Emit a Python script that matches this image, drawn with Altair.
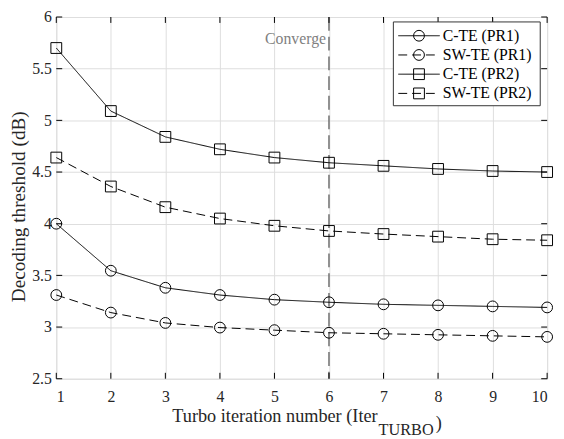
import altair as alt
import pandas as pd

# ---------------- data ----------------
iters = [1, 2, 3, 4, 5, 6, 7, 8, 9, 10]
c_te_pr1 = [4.00, 3.545, 3.38, 3.31, 3.265, 3.24, 3.22, 3.21, 3.20, 3.19]
sw_te_pr1 = [3.31, 3.14, 3.04, 2.995, 2.97, 2.945, 2.935, 2.925, 2.915, 2.905]
c_te_pr2 = [5.70, 5.09, 4.84, 4.72, 4.64, 4.59, 4.56, 4.53, 4.51, 4.50]
sw_te_pr2 = [4.64, 4.36, 4.16, 4.05, 3.98, 3.93, 3.90, 3.875, 3.85, 3.84]
series_names = ["C-TE (PR1)", "SW-TE (PR1)", "C-TE (PR2)", "SW-TE (PR2)"]
x_ticks = [1, 2, 3, 4, 5, 6, 7, 8, 9, 10]
y_ticks = [2.5, 3, 3.5, 4, 4.5, 5, 5.5, 6]
converge_at = [6]
converge_label = "Converge"
x_title_main = "Turbo iteration number (Iter"
x_title_sub = "TURBO"
x_title_end = ")"
y_title = "Decoding threshold (dB)"

# ---------------- layout ----------------
W, H = 498, 367
FONT = "Liberation Serif"
TXT = "#262626"

rows = []
for name, vals in zip(series_names, [c_te_pr1, sw_te_pr1, c_te_pr2, sw_te_pr2]):
    for it, v in zip(iters, vals):
        rows.append({"series": name, "iter": it, "value": v})
df = pd.DataFrame(rows)

dash_scale = alt.Scale(domain=series_names, range=[[1, 0], [9, 5], [1, 0], [9, 5]])
shape_scale = alt.Scale(domain=series_names, range=["circle", "circle", "square", "square"])
size_scale = alt.Scale(domain=series_names, range=[120, 120, 100, 100])

xs = alt.Scale(domain=[1, 10], nice=False, zero=False)
ys = alt.Scale(domain=[2.5, 6], nice=False, zero=False)

X = alt.X("iter:Q", scale=xs, axis=alt.Axis(
    values=x_ticks, title=None, grid=True, ticks=False, domain=False,
    labelPadding=10, labelFontSize=16, labelFont=FONT, labelColor=TXT, format="d"))
Y = alt.Y("value:Q", scale=ys, axis=alt.Axis(
    values=y_ticks, title=y_title, grid=True, ticks=False, domain=False,
    labelPadding=5, labelFontSize=16, labelFont=FONT, labelColor=TXT, format="~g",
    titleFont=FONT, titleFontSize=19.5, titleFontWeight="normal", titleColor=TXT,
    titleBaseline="middle", titleAlign="center", titleAngle=270,
    titleX=-38, titleY=192))

lines = alt.Chart(df).mark_line(color="black", strokeWidth=1).encode(
    x=X, y=Y,
    strokeDash=alt.StrokeDash("series:N", scale=dash_scale, legend=None),
)
points = alt.Chart(df).mark_point(filled=False, color="black", strokeWidth=1, opacity=1).encode(
    x=X, y=Y,
    shape=alt.Shape("series:N", scale=shape_scale, legend=None),
    size=alt.Size("series:N", scale=size_scale, legend=None),
)

conv_df = pd.DataFrame({"iter": converge_at})
conv_rule = alt.Chart(conv_df).mark_rule(color="#707070", strokeWidth=1.5, strokeDash=[14, 6]).encode(
    x=alt.X("iter:Q"))
conv_text = alt.Chart(conv_df).mark_text(
    align="right", baseline="middle", dx=-3, fontSize=16, font=FONT, color="#808080"
).encode(x=alt.X("iter:Q"), y=alt.value(22), text=alt.value(converge_label))

xt = pd.DataFrame({"iter": x_ticks})
yt = pd.DataFrame({"value": y_ticks})
tick_b = alt.Chart(xt).mark_rule(color="black").encode(x=alt.X("iter:Q"), y=alt.value(H), y2=alt.value(H - 6))
tick_t = alt.Chart(xt).mark_rule(color="black").encode(x=alt.X("iter:Q"), y=alt.value(0), y2=alt.value(6))
tick_l = alt.Chart(yt).mark_rule(color="black").encode(y=alt.Y("value:Q"), x=alt.value(0), x2=alt.value(6))
tick_r = alt.Chart(yt).mark_rule(color="black").encode(y=alt.Y("value:Q"), x=alt.value(W), x2=alt.value(W - 6))

# legend
leg_df = pd.DataFrame({"series": series_names, "i": list(range(len(series_names)))})
leg_base = alt.Chart(leg_df).transform_calculate(py="19 + datum.i * 19.5")
leg_box = alt.Chart(pd.DataFrame({"_": [0]})).mark_rect(
    fill="white", stroke="#333333", strokeWidth=1
).encode(x=alt.value(342), x2=alt.value(491), y=alt.value(5), y2=alt.value(90))
leg_line = leg_base.mark_rule(color="black", strokeWidth=1).encode(
    x=alt.value(347), x2=alt.value(389),
    y=alt.Y("py:Q", scale=None, axis=None),
    strokeDash=alt.StrokeDash("series:N", scale=dash_scale, legend=None))
leg_pt = leg_base.mark_point(filled=False, color="black", strokeWidth=1, opacity=1).encode(
    x=alt.value(368),
    y=alt.Y("py:Q", scale=None, axis=None),
    shape=alt.Shape("series:N", scale=shape_scale, legend=None),
    size=alt.Size("series:N", scale=size_scale, legend=None))
leg_txt = leg_base.mark_text(align="left", baseline="middle", fontSize=16, font=FONT, color="black").encode(
    x=alt.value(392),
    y=alt.Y("py:Q", scale=None, axis=None),
    text="series:N")

dummy = pd.DataFrame({"_": [0]})
t_main = alt.Chart(dummy).mark_text(align="right", baseline="alphabetic", fontSize=18.5, font=FONT, color=TXT).encode(
    x=alt.value(326), y=alt.value(411), text=alt.value(x_title_main))
t_sub = alt.Chart(dummy).mark_text(align="left", baseline="alphabetic", fontSize=16.5, font=FONT, color=TXT).encode(
    x=alt.value(327), y=alt.value(424), text=alt.value(x_title_sub))
t_end = alt.Chart(dummy).mark_text(align="left", baseline="alphabetic", fontSize=18.5, font=FONT, color=TXT).encode(
    x=alt.value(385), y=alt.value(418), text=alt.value(x_title_end))

chart = alt.layer(
    conv_rule, lines, points, conv_text,
    tick_b, tick_t, tick_l, tick_r,
    leg_box, leg_line, leg_pt, leg_txt,
    t_main, t_sub, t_end,
).properties(
    width=W, height=H,
    autosize=alt.AutoSizeParams(type="none"),
    padding={"left": 49, "top": 6, "right": 9, "bottom": 58},
).configure_view(
    stroke="black", strokeWidth=1
).configure_axis(
    gridColor="#e3e3e3", gridWidth=1
).configure(background="white")

chart.save("out.html", embed_options={"renderer": "svg", "actions": False})
